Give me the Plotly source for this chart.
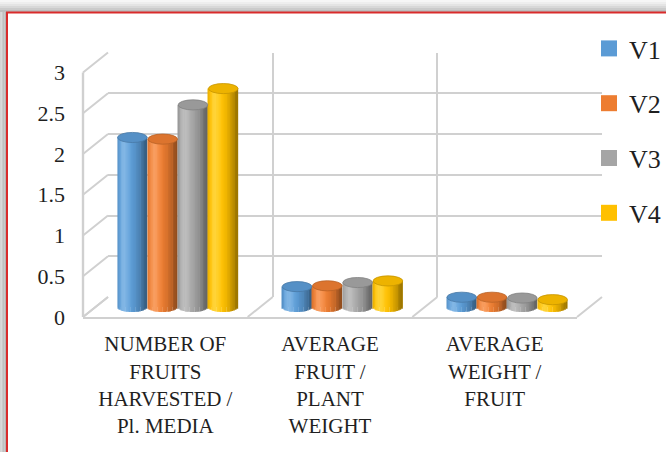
import numpy as np
import plotly.graph_objects as go

# ---- data -------------------------------------------------------------
categories = [
    "NUMBER OF<br>FRUITS<br>HARVESTED /<br>Pl. MEDIA",
    "AVERAGE<br>FRUIT /<br>PLANT<br>WEIGHT",
    "AVERAGE<br>WEIGHT /<br>FRUIT",
]
series_names = ["V1", "V2", "V3", "V4"]
v1 = [2.08, 0.25, 0.12]
v2 = [2.06, 0.26, 0.12]
v3 = [2.48, 0.30, 0.11]
v4 = [2.68, 0.32, 0.09]
series_values = [v1, v2, v3, v4]
series_colors = ["#5B9BD5", "#ED7D31", "#A5A5A5", "#FFC000"]
y_tick_values = [0, 0.5, 1, 1.5, 2, 2.5, 3]
y_tick_labels = ["0", "0.5", "1", "1.5", "2", "2.5", "3"]

# ---- pseudo-3D geometry (pixels) -------------------------------------
FIG_W, FIG_H = 666, 452
FRONT_LEFT, PLANE_W = 83.0, 494.0
FRONT_FLOOR, UNIT_PX = 317.0, 81.5
DEPTH_DX, DEPTH_DY = 12.5, -10.0        # shift per half-depth step
Y_MAX = 3.0
N_CAT = len(categories)

FONT = "Liberation Serif, Times New Roman, serif"
TEXT_COLOR = "#1f1f1f"
FRAME_COLOR = "#d0d0d0"


def plane_x(k, c):
    """Pixel x of category coordinate c on depth plane k (0 front, 1 mid, 2 back)."""
    return FRONT_LEFT + DEPTH_DX * k + (c + 0.5) * PLANE_W / N_CAT


def plane_y(k, v):
    return FRONT_FLOOR + DEPTH_DY * k - v * UNIT_PX


def px_to_paper_x(x):
    return x / FIG_W


def px_to_paper_y(y):
    return 1 - y / FIG_H


def hex_rgb(h):
    h = h.lstrip("#")
    return [int(h[i:i + 2], 16) for i in (0, 2, 4)]


def rgb_str(c):
    return "rgb(%d,%d,%d)" % tuple(int(round(min(255, max(0, v)))) for v in c)


def cylinder_shade(color, t):
    """Lit colour of a cylinder surface at normalised horizontal position t."""
    base = hex_rgb(color)
    theta = np.arcsin(np.clip(t, -1, 1))
    diffuse = max(np.cos(theta + 0.5), 0.0)
    k = 0.62 + 0.42 * diffuse
    spec = max(np.cos(theta + 0.55), 0.0) ** 14 * 0.22
    out = []
    for c in base:
        v = c * k
        out.append(v + (255 - v) * spec)
    return rgb_str(out)


def scaled(color, k):
    return rgb_str([c * k for c in hex_rgb(color)])


fig = go.Figure()

# placeholder traces so the back-wall and front-plane subplots are drawn
for xa, ya in (("x", "y"), ("x2", "y2")):
    fig.add_trace(go.Scatter(
        x=[0], y=[0], mode="markers", marker=dict(opacity=0, size=1),
        xaxis=xa, yaxis=ya, showlegend=False, hoverinfo="skip",
    ))

# ---- cylinders (mid-depth axes x3/y3) ---------------------------------
BAR_STEP = 0.184          # category units between neighbouring cylinders
HALF_W = 0.090            # cylinder half width, category units
CAP = 0.062               # half height of the elliptical cap, value units
N_STRIPS = 18
strip_w = 2 * HALF_W / N_STRIPS
cat_pos = np.arange(N_CAT)

shapes = []
for i, (name, vals, col) in enumerate(zip(series_names, series_values, series_colors)):
    off = (i - (len(series_names) - 1) / 2) * BAR_STEP
    xs = cat_pos + off
    # legend swatch
    fig.add_trace(go.Scatter(
        x=[None], y=[None], mode="markers",
        marker=dict(symbol="square", size=16, color=col, line=dict(width=0)),
        name=name, legendgroup=name, showlegend=True, xaxis="x3", yaxis="y3",
        hoverinfo="skip",
    ))
    # body in the series colour
    fig.add_trace(go.Bar(
        x=xs, y=vals, width=2 * HALF_W * 0.98, marker=dict(color=col, line=dict(width=0)),
        name=name, legendgroup=name, showlegend=False, xaxis="x3", yaxis="y3",
        hoverinfo="skip",
    ))
    # shaded vertical strips with a rounded bottom edge
    for j in range(N_STRIPS):
        t = -1 + (2 * j + 1) / N_STRIPS
        bottom = -CAP * np.sqrt(max(0.0, 1 - t * t))
        fig.add_trace(go.Bar(
            x=xs + HALF_W * t, y=[v - bottom for v in vals], base=[bottom] * N_CAT,
            width=strip_w * 1.08,
            marker=dict(color=cylinder_shade(col, t), line=dict(width=0)),
            legendgroup=name, showlegend=False, xaxis="x3", yaxis="y3",
            hoverinfo="skip",
        ))
    # elliptical top caps
    for x, v in zip(xs, vals):
        shapes.append(dict(
            type="circle", xref="x3", yref="y3", layer="above",
            x0=x - HALF_W, x1=x + HALF_W, y0=v - CAP, y1=v + CAP,
            fillcolor=scaled(col, 0.93), line=dict(color=scaled(col, 0.78), width=0.8),
        ))

# ---- frame: left wall, floor diagonals and front-left edge -------------
def frame_line(x0, y0, x1, y1, width=2):
    shapes.append(dict(
        type="line", xref="paper", yref="paper", layer="below",
        x0=px_to_paper_x(x0), y0=px_to_paper_y(y0),
        x1=px_to_paper_x(x1), y1=px_to_paper_y(y1),
        line=dict(color=FRAME_COLOR, width=width),
    ))


for v in y_tick_values:
    frame_line(plane_x(0, -0.5), plane_y(0, v), plane_x(2, -0.5), plane_y(2, v))
for c in np.arange(N_CAT + 1) - 0.5:
    frame_line(plane_x(0, c), plane_y(0, 0), plane_x(2, c), plane_y(2, 0))

# front-left vertical edge of the box
edge_x = plane_x(0, -0.5)
shapes.append(dict(
    type="rect", xref="paper", yref="paper", layer="above",
    x0=px_to_paper_x(edge_x - 1.2), x1=px_to_paper_x(edge_x + 1.2),
    y0=px_to_paper_y(plane_y(0, 0)), y1=px_to_paper_y(plane_y(0, Y_MAX)),
    fillcolor=FRAME_COLOR, line=dict(width=0),
))

# ---- outer border with soft shadow -----------------------------------
shadow_top = ["#f6f6f6", "#eeeeee", "#e4e4e4", "#d8d8d8", "#cbcbcb", "#bdbdbd"]
for n, c in enumerate(shadow_top):
    shapes.append(dict(type="rect", xref="paper", yref="paper", layer="below",
                       x0=0, x1=1, y0=px_to_paper_y(2 * n + 2), y1=px_to_paper_y(2 * n),
                       fillcolor=c, line=dict(width=0)))
shadow_left = ["#d4d4d4", "#cacaca", "#c0c0c0", "#b6b6b6"]
for n, c in enumerate(shadow_left):
    shapes.append(dict(type="rect", xref="paper", yref="paper", layer="below",
                       x0=px_to_paper_x(1.5 * n), x1=px_to_paper_x(1.5 * n + 1.5),
                       y0=0, y1=px_to_paper_y(12),
                       fillcolor=c, line=dict(width=0)))
shapes.append(dict(type="line", xref="paper", yref="paper", layer="below",
                   x0=px_to_paper_x(6), x1=1, y0=px_to_paper_y(12.5), y1=px_to_paper_y(12.5),
                   line=dict(color="#d92b2b", width=2)))
shapes.append(dict(type="line", xref="paper", yref="paper", layer="below",
                   x0=px_to_paper_x(7), x1=px_to_paper_x(7), y0=0, y1=px_to_paper_y(12),
                   line=dict(color="#d92b2b", width=2)))

# ---- axes --------------------------------------------------------------
tick_font = dict(family=FONT, size=22, color=TEXT_COLOR)
cat_font = dict(family=FONT, size=21, color=TEXT_COLOR)

layout = dict(
    template="none",
    width=FIG_W, height=FIG_H, autosize=False,
    margin=dict(l=0, r=0, t=0, b=0, pad=0),
    paper_bgcolor="white", plot_bgcolor="rgba(0,0,0,0)",
    barmode="overlay",
    shapes=shapes,
    showlegend=True,
    legend=dict(
        x=1, y=px_to_paper_y(25), xanchor="right", yanchor="top",
        font=dict(family=FONT, size=26, color=TEXT_COLOR),
        tracegroupgap=18, bgcolor="rgba(0,0,0,0)", borderwidth=0,
        traceorder="grouped",
    ),
    # back wall grid
    xaxis=dict(
        domain=[px_to_paper_x(plane_x(2, -0.5)), px_to_paper_x(plane_x(2, N_CAT - 0.5))],
        range=[-0.5, N_CAT - 0.5], tickvals=list(np.arange(N_CAT + 1) - 0.5),
        showticklabels=False, ticks="", showgrid=True, gridcolor=FRAME_COLOR, gridwidth=2,
        zeroline=False, showline=False, anchor="y", fixedrange=True, automargin=False,
    ),
    yaxis=dict(
        domain=[px_to_paper_y(plane_y(2, 0)), px_to_paper_y(plane_y(2, Y_MAX))],
        range=[0, Y_MAX], tickvals=y_tick_values,
        showticklabels=False, ticks="", showgrid=True, gridcolor=FRAME_COLOR, gridwidth=2,
        zeroline=False, showline=False, anchor="x", fixedrange=True, automargin=False,
    ),
    # front plane: value and category labels
    xaxis2=dict(
        domain=[px_to_paper_x(plane_x(0, -0.5)), px_to_paper_x(plane_x(0, N_CAT - 0.5))],
        range=[-0.5, N_CAT - 0.5], tickvals=list(cat_pos), ticktext=categories,
        tickfont=cat_font, ticks="", ticklabelstandoff=7,
        showgrid=False, zeroline=False, showline=True, linecolor=FRAME_COLOR, linewidth=2,
        anchor="y2", fixedrange=True, automargin=False,
    ),
    yaxis2=dict(
        domain=[px_to_paper_y(plane_y(0, 0)), px_to_paper_y(plane_y(0, Y_MAX))],
        range=[0, Y_MAX], tickvals=y_tick_values, ticktext=y_tick_labels,
        tickfont=tick_font, ticks="", ticklabelstandoff=17,
        showgrid=False, zeroline=False, showline=False,
        anchor="x2", fixedrange=True, automargin=False,
    ),
    # mid depth: cylinders
    xaxis3=dict(
        domain=[px_to_paper_x(plane_x(1, -0.5)), px_to_paper_x(plane_x(1, N_CAT - 0.5))],
        range=[-0.5, N_CAT - 0.5], visible=False, anchor="y3", fixedrange=True,
        automargin=False,
    ),
    yaxis3=dict(
        domain=[px_to_paper_y(plane_y(1, -0.2)), px_to_paper_y(plane_y(1, 3.2))],
        range=[-0.2, 3.2], visible=False, anchor="x3", fixedrange=True,
        automargin=False,
    ),
)
fig.update_layout(layout)

fig.write_html("out.html", config={"displayModeBar": False})
